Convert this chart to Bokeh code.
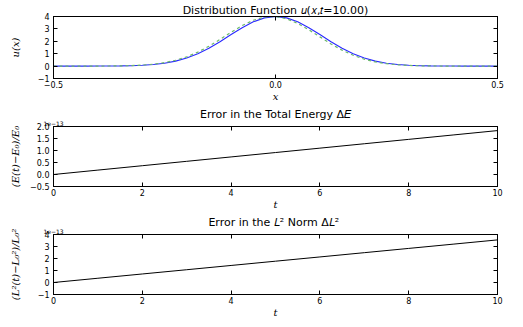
from bokeh.plotting import figure
from bokeh.layouts import column
from bokeh.models import LinearAxis, FixedTicker, Range1d, CustomLabelingPolicy
from bokeh.embed import file_html
from bokeh.resources import INLINE

# ---- data ----
x_grid = [-0.5, -0.475, -0.45, -0.425, -0.4, -0.375, -0.35, -0.325, -0.3, -0.275,
          -0.25, -0.225, -0.2, -0.175, -0.15, -0.125, -0.1, -0.075, -0.05, -0.025,
          0.0, 0.025, 0.05, 0.075, 0.1, 0.125, 0.15, 0.175, 0.2, 0.225,
          0.25, 0.275, 0.3, 0.325, 0.35, 0.375, 0.4, 0.425, 0.45, 0.475, 0.5]
u_numeric = [0.0, 0.0, 0.0001, 0.0004, 0.003, 0.007, 0.015, 0.033, 0.068, 0.130,
             0.235, 0.403, 0.652, 0.998, 1.442, 1.969, 2.542, 3.099, 3.571, 3.888,
             4.0, 3.888, 3.571, 3.099, 2.542, 1.969, 1.442, 0.998, 0.652, 0.403,
             0.235, 0.130, 0.068, 0.033, 0.015, 0.007, 0.003, 0.0004, 0.0001, 0.0, 0.0]
u_exact = [0.0, 0.0, 0.0001, 0.0005, 0.004, 0.009, 0.019, 0.040, 0.082, 0.156,
           0.278, 0.469, 0.747, 1.125, 1.599, 2.148, 2.727, 3.267, 3.701, 3.958,
           4.0, 3.818, 3.441, 2.930, 2.357, 1.790, 1.285, 0.871, 0.557, 0.337,
           0.192, 0.104, 0.053, 0.026, 0.012, 0.005, 0.002, 0.0003, 0.0001, 0.0, 0.0]

t_vals = [0, 1, 2, 3, 4, 5, 6, 7, 8, 9, 10]
energy_err = [0.0, 0.183, 0.366, 0.549, 0.732, 0.915, 1.098, 1.281, 1.464, 1.647, 1.83]   # x 1e-13
l2_err = [0.0, 0.355, 0.71, 1.065, 1.42, 1.775, 2.13, 2.485, 2.84, 3.195, 3.55]           # x 1e-13

x_ticks = [-0.5, 0.0, 0.5]
u_ticks = [-1, 0, 1, 2, 3, 4]
t_ticks = [0, 2, 4, 6, 8, 10]
e_ticks = [-0.5, 0.0, 0.5, 1.0, 1.5, 2.0]
l_ticks = [-1, 0, 1, 2, 3, 4]
offset_text = "1e\u221213"

FONT = "DejaVu Sans"
SERIF = "DejaVu Serif"

HIDE_ALL = CustomLabelingPolicy(code="")
FIRST_ONLY = CustomLabelingPolicy(code="for (const i of indices) { if (i == 0) yield i }")


def fmt(v, dec):
    s = ("%." + str(dec) + "f") % v
    return s.replace("-", "\u2212")


def make_fig(title, xr, yr, xt, yt, xdec, ydec, xlabel, ylabel,
             top, frame_h, bottom, ylab_standoff, title_standoff, offset=None):
    p = figure(width=520, height=top + frame_h + bottom,
               x_range=Range1d(*xr), y_range=Range1d(*yr),
               output_backend="svg", toolbar_location=None,
               min_border_left=53, min_border_right=23,
               min_border_top=top, min_border_bottom=bottom)
    p.grid.visible = False
    p.outline_line_color = "black"
    p.outline_line_width = 1
    p.background_fill_color = "white"
    p.border_fill_color = "white"
    for ax in (p.xaxis[0], p.yaxis[0]):
        ax.major_tick_in = 4
        ax.major_tick_out = 0
        ax.minor_tick_line_color = None
        ax.axis_line_color = "black"
        ax.major_label_text_font = FONT
        ax.major_label_text_font_size = "8px"
        ax.major_label_text_color = "black"
        ax.axis_label_text_font = SERIF
        ax.axis_label_text_font_style = "italic"
        ax.axis_label_text_font_size = "10px"
        ax.axis_label_text_color = "black"
    p.xaxis[0].ticker = FixedTicker(ticks=xt)
    p.yaxis[0].ticker = FixedTicker(ticks=yt)
    p.xaxis[0].major_label_overrides = {v: fmt(v, xdec) for v in xt}
    p.yaxis[0].major_label_overrides = {v: fmt(v, ydec) for v in yt}
    p.xaxis[0].axis_label = xlabel
    p.yaxis[0].axis_label = ylabel
    p.xaxis[0].major_label_standoff = 2
    p.yaxis[0].major_label_standoff = 4
    p.xaxis[0].axis_label_standoff = 0
    p.yaxis[0].axis_label_standoff = ylab_standoff
    # ticks on right (classic style), no labels
    r = LinearAxis(ticker=FixedTicker(ticks=yt), major_label_policy=HIDE_ALL,
                   major_label_text_font_size="0px", major_label_standoff=0,
                   major_tick_in=4, major_tick_out=0, minor_tick_line_color=None,
                   axis_line_color="black")
    p.add_layout(r, "right")
    # ticks on top; optionally carries the offset text as its first label
    a = LinearAxis(ticker=FixedTicker(ticks=xt), major_tick_in=4, major_tick_out=0,
                   minor_tick_line_color=None, axis_line_color="black")
    if offset is None:
        a.major_label_policy = HIDE_ALL
        a.major_label_text_font_size = "0px"
        a.major_label_standoff = 0
    else:
        a.major_label_policy = FIRST_ONLY
        a.major_label_overrides = {xt[0]: offset}
        a.major_label_text_font = FONT
        a.major_label_text_font_size = "6px"
        a.major_label_text_color = "black"
        a.major_label_text_align = "left"
        a.major_label_standoff = 1
    p.add_layout(a, "above")
    p.title.text = title
    p.title.align = "center"
    p.title.text_font = FONT
    p.title.text_font_style = "normal"
    p.title.text_font_size = "11px"
    p.title.text_color = "black"
    p.title.standoff = title_standoff
    p.title.offset = 0
    return p


p1 = make_fig("Distribution Function \U0001D462(\U0001D465,\U0001D461=10.00)", (-0.5, 0.5), (-1, 4),
              x_ticks, u_ticks, 1, 0, "x", "u(x)", 16, 62, 30, 14, 0)
p1.line(x_grid, u_numeric, line_color="#2a2aff", line_width=1.1)
p1.line(x_grid, u_exact, line_color="#6ab86a", line_width=1.2, line_dash="3 3")

p2 = make_fig("Error in the Total Energy \u0394\U0001D438", (0, 10), (-0.5, 2.0), t_ticks, e_ticks,
              0, 1, "t", "(E(t)\u2212E\u2080)/E\u2080", 16, 62, 30, 6, -6, offset_text)
p2.line(t_vals, energy_err, line_color="black", line_width=1)

p3 = make_fig("Error in the \U0001D43F\u00b2  Norm \u0394\U0001D43F\u00b2", (0, 10), (-1, 4),
              t_ticks, l_ticks, 0, 0, "t", "(L\u00b2(t)\u2212L\u2080\u00b2)/L\u2080\u00b2",
              15, 63, 31, 14, -6, offset_text)
p3.line(t_vals, l2_err, line_color="black", line_width=1)

layout = column(p1, p2, p3, spacing=0)
open("out.html", "w").write(file_html(layout, INLINE))
